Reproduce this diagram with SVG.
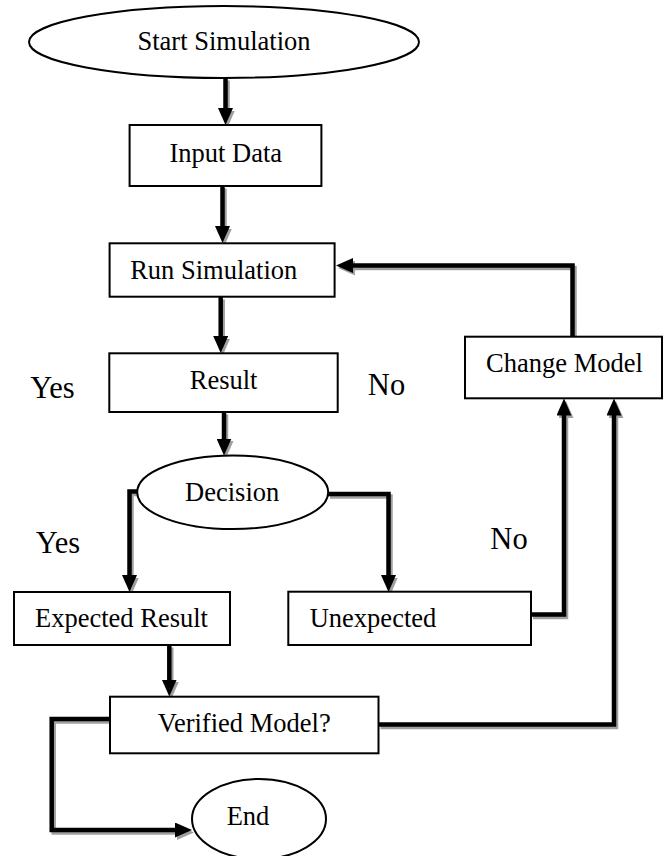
<svg xmlns="http://www.w3.org/2000/svg" width="665" height="856" viewBox="0 0 665 856">
<defs>
<style>
.box{fill:#fff;stroke:#000;stroke-width:2}
.t{font-family:"Liberation Serif","Times New Roman",serif;font-size:26.5px;fill:#000;text-anchor:middle}
.lbl{font-family:"Liberation Serif","Times New Roman",serif;font-size:30.5px;fill:#000;text-anchor:middle}
.c{fill:none;stroke:#000;stroke-width:4.5;stroke-linejoin:miter}
.cs{fill:none;stroke:#a0a0a0;stroke-width:4.5;stroke-linejoin:miter}
.arr{marker-end:url(#ah)}
.cs.arr{marker-end:url(#ahs)}
</style>
<marker id="ah" markerUnits="userSpaceOnUse" markerWidth="17" markerHeight="15" refX="5" refY="7.5" orient="auto" viewBox="0 0 17 15">
<path d="M0,0 L17,7.5 L0,15 z" fill="#000"/>
</marker>
<marker id="ahs" markerUnits="userSpaceOnUse" markerWidth="17" markerHeight="15" refX="5" refY="7.5" orient="auto" viewBox="0 0 17 15">
<path d="M0,0 L17,7.5 L0,15 z" fill="#a0a0a0"/>
</marker>
</defs>
<rect width="665" height="856" fill="#fff"/>
<g id="connectors">
<g id="shadows" transform="translate(2,2.5)">
<path class="cs arr" d="M225.5,78 V113"/>
<path class="cs arr" d="M222.5,186 V231"/>
<path class="cs arr" d="M220.7,297 V341"/>
<path class="cs arr" d="M224,412 V443.5"/>
<path class="cs arr" d="M137.5,491.5 H129.5 V580"/>
<path class="cs arr" d="M328,494 H388.5 V580"/>
<path class="cs arr" d="M169.3,645 V684.5"/>
<path class="cs arr" d="M531,614.5 H564 V410.5"/>
<path class="cs arr" d="M378.5,724.5 H614 V410.5"/>
<path class="cs arr" d="M110,719 H51.7 V830 H180"/>
<path class="cs arr" d="M572.5,336.7 V265.5 H348"/>
</g>
<g id="lines">
<path class="c arr" d="M225.5,78 V113"/>
<path class="c arr" d="M222.5,186 V231"/>
<path class="c arr" d="M220.7,297 V341"/>
<path class="c arr" d="M224,412 V443.5"/>
<path class="c arr" d="M137.5,491.5 H129.5 V580"/>
<path class="c arr" d="M328,494 H388.5 V580"/>
<path class="c arr" d="M169.3,645 V684.5"/>
<path class="c arr" d="M531,614.5 H564 V410.5"/>
<path class="c arr" d="M378.5,724.5 H614 V410.5"/>
<path class="c arr" d="M110,719 H51.7 V830 H180"/>
<path class="c arr" d="M572.5,336.7 V265.5 H348"/>
</g>
</g>
<g id="start"><ellipse class="box" cx="224" cy="42" rx="195" ry="36"/><text class="t" x="224" y="50">Start Simulation</text></g>
<g id="input"><rect class="box" x="129.6" y="125" width="191.8" height="61"/><text class="t" x="225.8" y="161.7">Input Data</text></g>
<g id="run"><rect class="box" x="109.6" y="243.3" width="225" height="53.4"/><text class="t" x="213.7" y="279.3">Run Simulation</text></g>
<g id="result"><rect class="box" x="109.3" y="353.3" width="228.4" height="58.7"/><text class="t" x="223.6" y="389">Result</text></g>
<g id="change"><rect class="box" x="465" y="336.7" width="197" height="61.6"/><text class="t" x="564.5" y="371.7">Change Model</text></g>
<g id="decision"><ellipse class="box" cx="232.7" cy="492.3" rx="95.5" ry="36.8"/><text class="t" x="232.2" y="500.5">Decision</text></g>
<g id="expected"><rect class="box" x="14" y="592" width="216" height="53"/><text class="t" x="121.5" y="627">Expected Result</text></g>
<g id="unexpected"><rect class="box" x="288.3" y="591.7" width="242.7" height="53.3"/><text class="t" x="373" y="626.7">Unexpected</text></g>
<g id="verified"><rect class="box" x="110" y="696.7" width="268.5" height="56.6"/><text class="t" x="244.2" y="731.7">Verified Model?</text></g>
<g id="end"><ellipse class="box" cx="259" cy="819" rx="67" ry="40"/><text class="t" x="248" y="825">End</text></g>
<g id="labels">
<text class="lbl" x="52.5" y="398">Yes</text>
<text class="lbl" x="386.5" y="395">No</text>
<text class="lbl" x="58" y="552.7">Yes</text>
<text class="lbl" x="509" y="549.3">No</text>
</g>
</svg>
